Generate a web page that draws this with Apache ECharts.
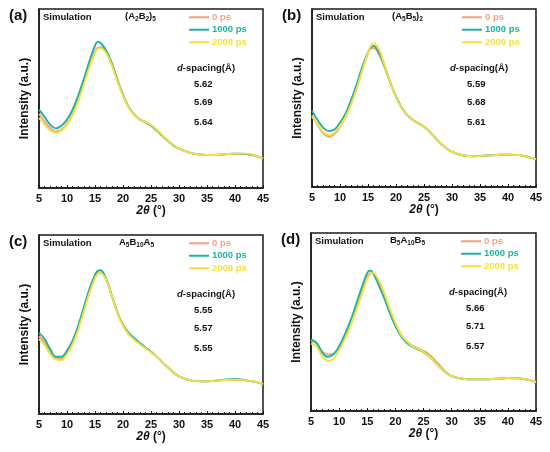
<!DOCTYPE html>
<html><head><meta charset="utf-8">
<script src="https://cdn.jsdelivr.net/npm/echarts@6/dist/echarts.min.js"></script>
<style>html,body{margin:0;padding:0;background:#fff}#c{width:550px;height:452px}</style>
</head><body><div id="c"></div>
<script>
// 2θ sample positions (degrees)
const xs = [5,6,7,8,9,10,11,12,13,14,15,15.5,16,17,18,19,20,21,22,23,24,25,26,27,28,29,30,32,34,36,38,40,42,44,45];
const seriesNames = ['0 ps','1000 ps','2000 ps'];
const seriesColors = ['#F4A283','#1BB3A4','#F6E03F'];

// (a) (A2B2)5
const a_0ps    = [41.5,37.2,33.5,31.8,32.6,35.9,41.5,49.3,58.7,68.3,76.4,78.4,78.6,75.4,68.9,60.1,52.0,45.3,41.0,38.4,36.9,35.0,32.4,29.4,26.4,23.8,22.0,19.6,18.6,18.4,18.8,19.2,19.0,17.7,16.6];
const a_1000ps = [43.8,39.7,35.4,33.3,34.8,38.2,43.8,51.6,60.9,70.8,79.5,81.8,81.0,76.9,69.8,60.5,52.1,45.3,41.0,38.2,36.7,34.8,32.2,29.2,26.4,23.8,22.0,19.6,18.6,18.4,18.8,19.2,19.0,17.7,16.6];
const a_2000ps = [39.1,35.4,32.2,31.1,32.0,35.4,40.8,48.4,57.7,67.4,75.4,77.7,78.0,75.4,68.5,59.6,51.6,45.0,40.8,38.2,36.9,35.2,32.6,29.6,26.6,24.0,22.0,19.6,18.6,18.4,18.8,19.2,19.2,17.7,16.6];
// (b) (A5B5)2
const b_0ps    = [40.4,34.8,30.1,28.2,29.7,33.8,39.5,47.0,56.0,66.2,75.2,78.0,78.0,74.2,66.7,58.3,50.8,44.7,40.4,37.8,35.9,34.0,31.2,27.8,24.4,21.8,19.7,17.7,17.3,17.7,18.0,18.2,17.9,16.5,15.6];
const b_1000ps = [42.9,37.6,33.3,31.4,32.3,36.1,41.4,48.9,57.9,67.7,75.6,78.2,79.3,75.2,67.7,58.6,50.8,44.7,40.4,37.6,35.7,33.8,31.0,27.6,24.4,21.8,19.7,17.7,17.3,17.7,18.0,18.2,17.9,16.5,15.6];
const b_2000ps = [39.5,35.3,31.0,29.3,30.5,34.2,39.5,46.6,55.5,65.8,75.2,79.2,80.8,77.1,68.0,58.6,50.4,44.5,40.2,37.6,35.7,33.8,31.0,27.6,24.4,21.8,19.7,17.7,17.3,17.7,18.0,18.3,18.0,16.5,15.6];
// (c) A5B10A5
const c_0ps    = [43.4,40.0,34.8,31.5,31.1,34.1,39.7,47.9,58.1,68.3,76.4,78.8,79.1,75.4,66.1,56.8,49.7,45.3,42.3,39.7,37.2,34.8,32.2,28.9,26.1,23.3,21.0,18.8,18.2,18.4,19.0,19.0,18.8,17.7,16.8];
const c_1000ps = [45.3,41.9,36.3,32.0,32.0,35.4,41.0,49.3,59.6,69.8,77.7,80.0,80.3,75.4,66.1,56.8,49.7,45.3,42.3,39.7,37.2,34.8,32.2,28.9,26.1,23.3,21.0,18.8,18.2,18.4,19.2,19.6,18.8,17.7,16.8];
const c_2000ps = [41.9,38.5,33.5,30.4,30.2,33.3,38.9,47.1,57.2,67.6,75.8,78.2,78.6,74.9,65.7,56.4,49.3,44.5,41.5,38.9,36.7,34.5,32.0,28.9,26.1,23.3,21.0,18.8,18.2,18.4,19.0,19.2,18.8,17.7,16.8];
// (d) B5A10B5
const d_0ps    = [39.3,37.9,33.6,31.8,32.3,35.5,41.1,48.6,57.4,67.3,75.3,77.2,77.6,72.9,65.4,56.6,49.0,43.0,39.3,36.8,35.3,33.8,31.8,28.6,25.2,21.8,19.6,18.1,17.8,17.8,18.1,18.5,18.3,17.2,16.4];
const d_1000ps = [40.2,38.3,32.7,30.5,31.8,36.4,43.0,50.5,59.8,69.2,77.6,78.9,77.6,71.0,63.6,55.1,47.7,42.1,38.3,36.1,34.6,33.1,30.8,27.5,24.3,21.5,19.6,18.1,17.8,17.8,18.1,18.5,18.3,17.2,16.4];
const d_2000ps = [37.9,36.1,30.8,28.0,29.3,34.2,40.2,47.7,56.1,65.4,74.2,76.8,77.6,73.8,66.4,57.4,49.5,43.0,39.3,36.4,35.0,33.1,30.8,27.5,24.3,21.5,19.6,18.1,17.8,17.8,18.1,18.5,18.3,17.2,16.4];

const panelLabels = ['(a)','(b)','(c)','(d)'];
const sampleLabels = ['{n|(A}{s|2}{n|B}{s|2}{n|)}{s|5}','{n|(A}{s|5}{n|B}{s|5}{n|)}{s|2}','{n|A}{s|5}{n|B}{s|10}{n|A}{s|5}','{n|B}{s|5}{n|A}{s|10}{n|B}{s|5}'];
const dSpacings = [['5.62','5.69','5.64'],['5.59','5.68','5.61'],['5.55','5.57','5.55'],['5.66','5.71','5.57']];
const panelData = [[a_0ps,a_1000ps,a_2000ps],[b_0ps,b_1000ps,b_2000ps],[c_0ps,c_1000ps,c_2000ps],[d_0ps,d_1000ps,d_2000ps]];
const xTicks = [5,45,5]; // min, max, interval

const FONT = '"Liberation Sans", Arial, sans-serif';
const grids = [
  {left:39, top:9, width:224, height:179},
  {left:312, top:9, width:224, height:178},
  {left:39, top:235, width:224, height:179},
  {left:311, top:233, width:225, height:178}
];
const sampleOffsets = [86, 80, 80, 79];

const option = {
  animation:false,
  backgroundColor:'#fff',
  grid: grids.map(g => Object.assign({show:true, borderColor:'#1a1a1a', borderWidth:1.5, backgroundColor:'transparent'}, g)),
  xAxis: grids.map((g,i) => ({
    type:'value', gridIndex:i, min:xTicks[0], max:xTicks[1], interval:xTicks[2],
    axisLine:{show:true, lineStyle:{color:'#1a1a1a', width:1.5}},
    axisTick:{show:true, inside:true, length:3, lineStyle:{color:'#1a1a1a', width:1}},
    minorTick:{show:true, splitNumber:5, length:2, lineStyle:{color:'#1a1a1a', width:1}},
    splitLine:{show:false},
    axisLabel:{color:'#111', fontFamily:FONT, fontWeight:'bold', fontSize:11, margin:5},
    name:'{i|2θ} (°)', nameLocation:'middle', nameGap:17,
    nameTextStyle:{color:'#111', fontFamily:FONT, fontWeight:'bold', fontSize:12,
      rich:{i:{fontStyle:'italic', fontWeight:'bold', fontFamily:FONT, fontSize:12, color:'#111'}}}
  })),
  yAxis: grids.map((g,i) => ({
    type:'value', gridIndex:i, min:0, max:100,
    axisLine:{show:true, lineStyle:{color:'#1a1a1a', width:1.5}},
    axisTick:{show:false}, axisLabel:{show:false}, splitLine:{show:false},
    name:'Intensity (a.u.)', nameLocation:'middle', nameGap:8, nameRotate:90,
    nameTextStyle:{color:'#111', fontFamily:FONT, fontWeight:'bold', fontSize:12}
  })),
  legend: grids.map((g,i) => ({
    left:g.left+150, top:g.top+3, orient:'vertical', padding:0, itemGap:2,
    icon:'rect', itemWidth:20, itemHeight:2, selectedMode:false,
    textStyle:{fontFamily:FONT, fontWeight:'bold', fontSize:9.5, lineHeight:10.5, padding:[0,0,0,-2]},
    data: seriesNames.map((n,k)=>({name:n, textStyle:{color:seriesColors[k]}}))
  })),
  series: [],
  graphic: []
};

panelData.forEach((arrs, p) => {
  arrs.forEach((arr, k) => {
    option.series.push({
      type:'line', name:seriesNames[k], xAxisIndex:p, yAxisIndex:p,
      data: xs.map((x,j)=>[x, arr[j]]),
      smooth:0.4, showSymbol:false, symbol:'none',
      lineStyle:{width:1.9, color:seriesColors[k]}, itemStyle:{color:seriesColors[k]}, z:2+k
    });
  });
  const g = grids[p];
  const txt = {fontFamily:FONT, fontWeight:'bold', fill:'#111'};
  option.graphic.push(
    {type:'text', left:g.left-30, top:g.top-1, style:Object.assign({text:panelLabels[p], fontSize:15}, txt)},
    {type:'text', left:g.left+4, top:g.top+3, style:Object.assign({text:'Simulation', fontSize:9.5}, txt)},
    {type:'text', left:g.left+sampleOffsets[p], top:g.top+2, style:Object.assign({text:sampleLabels[p], rich:{
      n:{fontFamily:FONT, fontWeight:'bold', fontSize:9.5, fill:'#111'},
      s:{fontFamily:FONT, fontWeight:'bold', fontSize:6.5, fill:'#111', padding:[6,0,0,0]}
    }}, txt)},
    {type:'text', left:g.left+138, top:g.top+54, style:Object.assign({text:'{i|d}-spacing(Å)', fontSize:9.5, rich:{
      i:{fontFamily:FONT, fontWeight:'bold', fontStyle:'italic', fontSize:9.5, fill:'#111'}
    }}, txt)}
  );
  [76,94,114].forEach((dy, m) => {
    option.graphic.push({type:'text', left:g.left+155, top:g.top+dy-6, style:Object.assign({text:dSpacings[p][m], fontSize:9.5}, txt)});
  });
});

const chart = echarts.init(document.getElementById('c'), null, {renderer:'canvas'});
chart.setOption(option);
</script></body></html>
